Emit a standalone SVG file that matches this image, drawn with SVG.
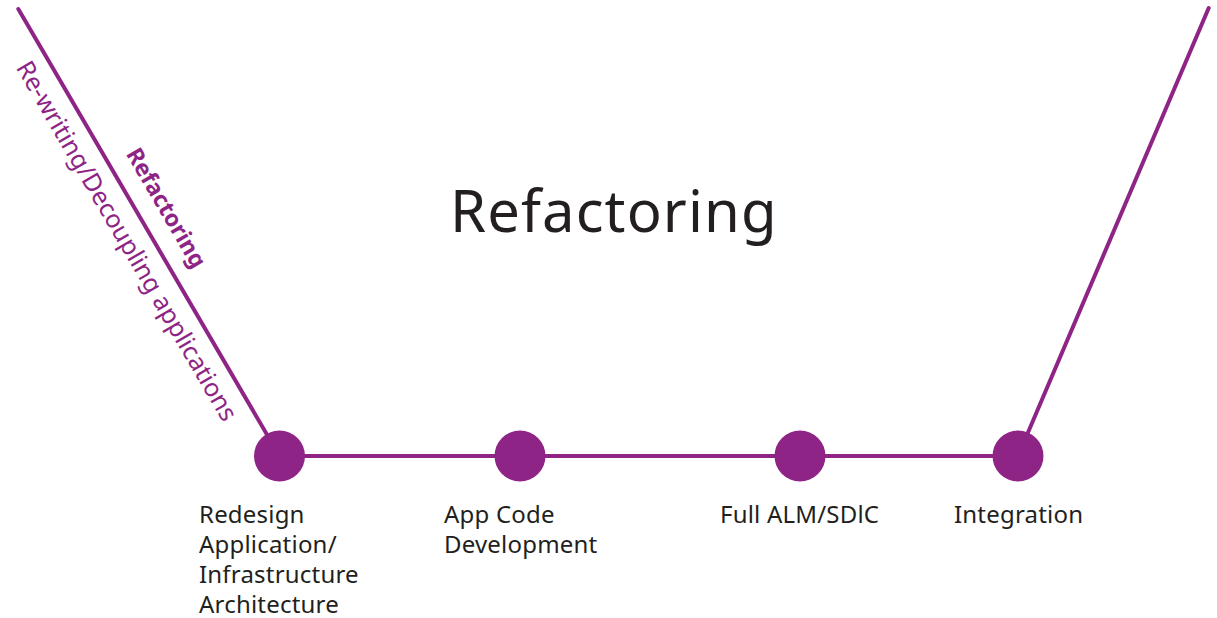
<svg xmlns="http://www.w3.org/2000/svg" width="1217" height="618" viewBox="0 0 1217 618">
<style>
.ln{stroke:#8E2586;stroke-width:4;fill:none;stroke-linecap:round}
.dot{fill:#8E2586}
.lbl{font-family:"Noto Sans","Open Sans",sans-serif;font-size:24px;fill:#231F20;letter-spacing:0.2px}
.title{font-family:"Noto Sans","Open Sans",sans-serif;font-size:58px;fill:#231F20;letter-spacing:1.1px}
.side{font-family:"Noto Sans","Open Sans",sans-serif;fill:#8E2586}
</style>
<rect width="1217" height="618" fill="#ffffff"/>
<g id="connectors">
<line class="ln" x1="18.3" y1="9" x2="279.5" y2="456"/>
<line class="ln" x1="279.5" y1="456" x2="1018" y2="456"/>
<line class="ln" x1="1018" y1="456" x2="1208.7" y2="8"/>
</g>
<g id="side-labels" transform="translate(18.3,9) rotate(59.7)">
<text class="side" x="179" y="-19.5" font-size="23" font-weight="bold">Refactoring</text>
<text class="side" x="49" y="32" font-size="25">Re-writing/Decoupling applications</text>
</g>
<g id="title"><text class="title" x="450" y="232">Refactoring</text></g>
<g id="node-redesign">
<circle class="dot" cx="279.5" cy="456" r="25.5"/>
<text class="lbl" x="199" y="523"><tspan x="199">Redesign</tspan><tspan x="199" dy="30">Application/</tspan><tspan x="199" dy="30">Infrastructure</tspan><tspan x="199" dy="30">Architecture</tspan></text>
</g>
<g id="node-appcode">
<circle class="dot" cx="520" cy="456" r="25.5"/>
<text class="lbl" x="444" y="523"><tspan x="444">App Code</tspan><tspan x="444" dy="30">Development</tspan></text>
</g>
<g id="node-alm">
<circle class="dot" cx="800" cy="456" r="25.5"/>
<text class="lbl" x="720" y="523">Full ALM/SDlC</text>
</g>
<g id="node-integration">
<circle class="dot" cx="1018" cy="456" r="25.5"/>
<text class="lbl" x="954" y="523">Integration</text>
</g>
</svg>
